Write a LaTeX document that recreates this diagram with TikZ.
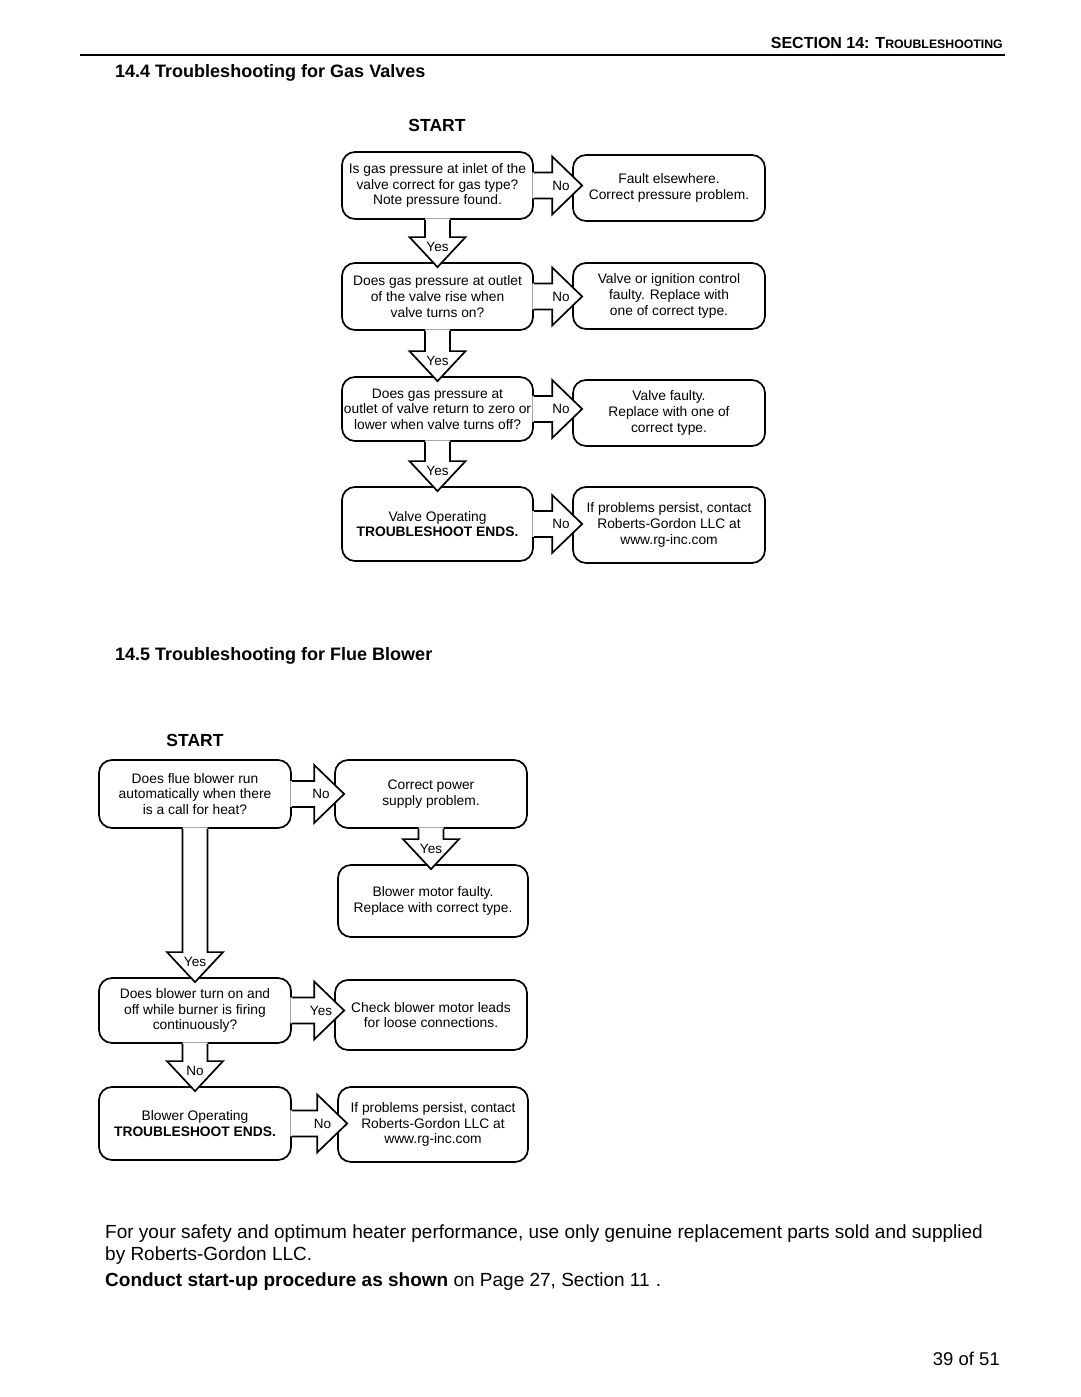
\documentclass[tikz,border=0pt]{standalone}
\usepackage{fontspec}
\setmainfont{Liberation Sans}
\usetikzlibrary{calc}

\newcommand{\fatright}[3]{%
    \coordinate (s) at (#1.east);
    \coordinate (t) at ($(#1.east -| #2.west)+(10,0)$);
    \fill[white] ($(s)+(-1.5,13)$) -- ($(t)+(-30,13)$) -- ($(t)+(-30,29)$) -- (t)
        -- ($(t)+(-30,-29)$) -- ($(t)+(-30,-13)$) -- ($(s)+(-1.5,-13)$) -- cycle;
    \draw[fatline] ($(s)+(0,13)$) -- ($(t)+(-30,13)$) -- ($(t)+(-30,29)$) -- (t)
        -- ($(t)+(-30,-29)$) -- ($(t)+(-30,-13)$) -- ($(s)+(0,-13)$);
    \node[flowlbl] (#1-#2) at ($(s)!0.5!(t)+(3,0)$) {#3};
}
\newcommand{\fatdown}[3]{%
    \coordinate (s) at (#1.south);
    \coordinate (t) at ($(#1.south |- #2.north)+(0,-5)$);
    \fill[white] ($(s)+(-12.5,1.5)$) -- ($(t)+(-12.5,30)$) -- ($(t)+(-28,30)$) -- (t)
        -- ($(t)+(28,30)$) -- ($(t)+(12.5,30)$) -- ($(s)+(12.5,1.5)$) -- cycle;
    \draw[fatline] ($(s)+(-12.5,0)$) -- ($(t)+(-12.5,30)$) -- ($(t)+(-28,30)$) -- (t)
        -- ($(t)+(28,30)$) -- ($(t)+(12.5,30)$) -- ($(s)+(12.5,0)$);
    \node[flowlbl] (#1-#2) at ($(t)+(0,20)$) {#3};
}

\begin{document}
\begin{tikzpicture}[x=1pt, y=1pt]
        \tikzstyle{qbox}=[draw, line width=1.7pt, rounded corners=13pt, align=center, inner sep=0pt,
            minimum width=191pt, font=\fontsize{13.8}{15.6}\selectfont]
        \tikzstyle{fatline}=[line width=1.7pt, line join=miter]
        \tikzstyle{flowlbl}=[inner sep=0pt, font=\fontsize{13.5}{15}\selectfont]
        \tikzstyle{headtxt}=[inner sep=0pt, anchor=base west, font=\fontsize{18}{21}\selectfont\bfseries]
        \tikzstyle{starttxt}=[inner sep=0pt, anchor=base, font=\fontsize{17.5}{20}\selectfont\bfseries]
        \tikzstyle{bodytxt}=[inner sep=0pt, anchor=base west, font=\fontsize{19}{22}\selectfont]

        \useasboundingbox (0,0) rectangle (1080,1397);

        \node[inner sep=0pt, anchor=base east] (sect) at (1003,1348.5)
            {\bfseries\fontsize{16}{18}\selectfont SECTION 14: T\fontsize{12.3}{14}\selectfont ROUBLESHOOTING};
        \draw[line width=2pt] (80,1342) -- (1005,1342);

        \node[headtxt] (h144) at (115,1319) {14.4 Troubleshooting for Gas Valves};
        \node[starttxt] (gstart) at (437,1265) {START};

        \node[qbox, minimum height=67pt] (gq1) at (437.5,1211.5) {Is gas pressure at inlet of the\\valve correct for gas type?\\Note pressure found.};
        \node[qbox, minimum height=66pt, minimum width=192pt] (ga1) at (669,1209) {Fault elsewhere.\\Correct pressure problem.};
        \node[qbox, minimum height=67pt] (gq2) at (437.5,1100.5) {Does gas pressure at outlet\\of the valve rise when\\valve turns on?};
        \node[qbox, minimum height=66pt, minimum width=192pt] (ga2) at (669,1101) {Valve or ignition control\\faulty. Replace with\\one of correct type.};
        \node[qbox, minimum height=64pt] (gq3) at (437.5,988) {Does gas pressure at\\outlet of valve return to zero or\\lower when valve turns off?};
        \node[qbox, minimum height=66pt, minimum width=192pt] (ga3) at (669,984) {Valve faulty.\\Replace with one of\\correct type.};
        \node[qbox, minimum height=74pt] (gq4) at (437.5,873) {Valve Operating\\\textbf{TROUBLESHOOT ENDS.}};
        \node[qbox, minimum height=76pt, minimum width=192pt] (ga4) at (669,872) {If problems persist, contact\\Roberts-Gordon LLC at\\www.rg-inc.com};

        \fatright{gq1}{ga1}{No}
        \fatright{gq2}{ga2}{No}
        \fatright{gq3}{ga3}{No}
        \fatright{gq4}{ga4}{No}
        \fatdown{gq1}{gq2}{Yes}
        \fatdown{gq2}{gq3}{Yes}
        \fatdown{gq3}{gq4}{Yes}

        \node[headtxt] (h145) at (115,736) {14.5 Troubleshooting for Flue Blower};
        \node[starttxt] (bstart) at (195,650) {START};

        \node[qbox, minimum height=68pt, minimum width=192pt] (bq1) at (195,603) {Does flue blower run\\automatically when there\\is a call for heat?};
        \node[qbox, minimum height=68pt, minimum width=192pt] (ba1) at (431,603) {Correct power\\supply problem.};
        \node[qbox, minimum height=72pt, minimum width=190pt] (ba2) at (433,496) {Blower motor faulty.\\Replace with correct type.};
        \node[qbox, minimum height=65pt, minimum width=192pt] (bq2) at (195,386.5) {Does blower turn on and\\off while burner is firing\\continuously?};
        \node[qbox, minimum height=70pt, minimum width=192pt] (ba3) at (431,382) {Check blower motor leads\\for loose connections.};
        \node[qbox, minimum height=73pt, minimum width=192pt] (bq3) at (195,273.5) {Blower Operating\\\textbf{TROUBLESHOOT ENDS.}};
        \node[qbox, minimum height=75pt, minimum width=190pt] (ba4) at (433,272.5) {If problems persist, contact\\Roberts-Gordon LLC at\\www.rg-inc.com};

        \fatright{bq1}{ba1}{No}
        \fatdown{ba1}{ba2}{Yes}
        \fatdown{bq1}{bq2}{Yes}
        \fatright{bq2}{ba3}{Yes}
        \fatdown{bq2}{bq3}{No}
        \fatright{bq3}{ba4}{No}

        \node[bodytxt] (note1) at (105,158) {For your safety and optimum heater performance, use only genuine replacement parts sold and supplied};
        \node[bodytxt] (note2) at (105,136) {by Roberts-Gordon LLC.};
        \node[bodytxt] (note3) at (105,110) {\textbf{Conduct start-up procedure as shown} on Page 27, Section 11\,\,.};
        \node[inner sep=0pt, anchor=base east, font=\fontsize{18.5}{21}\selectfont] (page) at (1000,31) {39 of 51};
    \end{tikzpicture}
\end{document}
